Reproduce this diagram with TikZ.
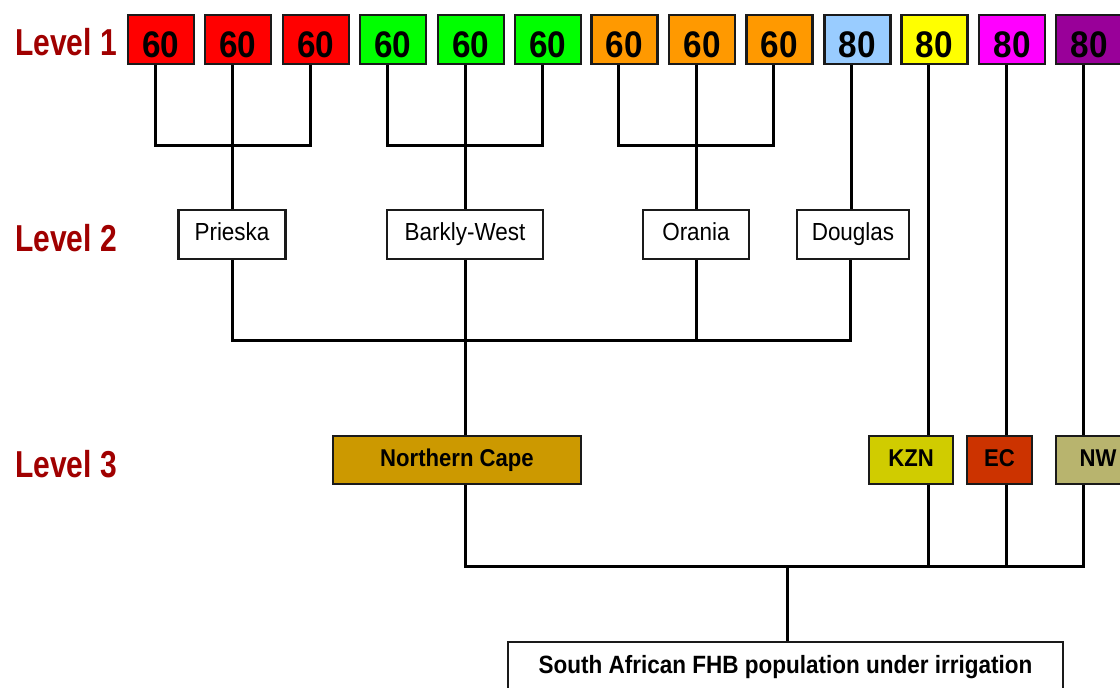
\documentclass[tikz,border=0pt]{standalone}
\usepackage{fontspec}
\setmainfont{Liberation Sans}
\newfontfamily\lblfont[FakeStretch=0.8]{Liberation Sans}
\newfontfamily\numfont[FakeStretch=0.9]{Liberation Sans}
\newfontfamily\twofont[FakeStretch=0.91]{Liberation Sans}
\newfontfamily\threefont[FakeStretch=0.91]{Liberation Sans}
\newfontfamily\botfont[FakeStretch=0.9]{Liberation Sans}
\definecolor{lvlred}{HTML}{A00000}
\definecolor{boxline}{HTML}{1A1A1A}
\definecolor{cRed}{HTML}{FF0000}
\definecolor{cGreen}{HTML}{00FF00}
\definecolor{cOrange}{HTML}{FF9900}
\definecolor{cLblue}{HTML}{99CCFF}
\definecolor{cYellow}{HTML}{FFFF00}
\definecolor{cMagenta}{HTML}{FF00FF}
\definecolor{cPurple}{HTML}{990099}
\definecolor{cNC}{HTML}{CC9900}
\definecolor{cKZN}{HTML}{D0CC00}
\definecolor{cEC}{HTML}{CC3300}
\definecolor{cNW}{HTML}{B8B46E}
\begin{document}
\begin{tikzpicture}[x=1pt,y=-1pt,
  lvl/.style={font={\lblfont\bfseries\fontsize{37.5pt}{40pt}\selectfont}, text=lvlred, anchor=base west, inner sep=0},
  topbox/.style={draw=boxline, line width=2.3, minimum width=66, minimum height=49, inner sep=0,
     text height=35, text depth=0, font={\numfont\bfseries\fontsize{37pt}{40pt}\selectfont}},
  twobox/.style={draw=boxline, line width=2.3, fill=white, minimum height=49, inner sep=0,
     text height=18, text depth=7, font={\twofont\fontsize{24.7pt}{26pt}\selectfont}},
  threebox/.style={draw=boxline, line width=2.3, minimum height=48, inner sep=0,
     text height=18, text depth=4.6, font={\threefont\bfseries\fontsize{24.3pt}{26pt}\selectfont}},
  botbox/.style={draw=boxline, line width=2.3, fill=white, anchor=north, minimum width=555, inner ysep=0,
     text height=31, text depth=45, font={\botfont\bfseries\fontsize{25pt}{27pt}\selectfont}},
  conn/.style={line width=3, draw=black}
]
\useasboundingbox (0,0) rectangle (1120,688);
\clip (0,0) rectangle (1120,688);

% level labels
\node[lvl] (l1) at (15,55) {Level 1};
\node[lvl] (l2) at (15,251.7) {Level 2};
\node[lvl] (l3) at (15,477) {Level 3};

% level 1 boxes
\node[topbox, fill=cRed] (r1) at (161,39.5) {60};
\node[topbox, fill=cRed] (r2) at (238,39.5) {60};
\node[topbox, fill=cRed] (r3) at (316,39.5) {60};
\node[topbox, fill=cGreen] (g1) at (393,39.5) {60};
\node[topbox, fill=cGreen] (g2) at (471,39.5) {60};
\node[topbox, fill=cGreen] (g3) at (548,39.5) {60};
\node[topbox, fill=cOrange] (o1) at (624.5,39.5) {60};
\node[topbox, fill=cOrange] (o2) at (702,39.5) {60};
\node[topbox, fill=cOrange] (o3) at (779.5,39.5) {60};
\node[topbox, fill=cLblue] (lb) at (857.5,39.5) {80};
\node[topbox, fill=cYellow] (ye) at (934.5,39.5) {80};
\node[topbox, fill=cMagenta] (ma) at (1012,39.5) {80};
\node[topbox, fill=cPurple] (pu) at (1089,39.5) {80};

% level 2 boxes
\node[twobox, minimum width=107] (prieska) at (232,234.5) {Prieska};
\node[twobox, minimum width=156] (barkly) at (465,234.5) {Barkly-West};
\node[twobox, minimum width=106] (orania) at (696,234.5) {Orania};
\node[twobox, minimum width=112] (douglas) at (853,234.5) {Douglas};

% level 3 boxes
\node[threebox, fill=cNC, minimum width=248] (nc) at (457,460) {Northern Cape};
\node[threebox, fill=cKZN, minimum width=84] (kzn) at (911,460) {KZN};
\node[threebox, fill=cEC, minimum width=65] (ec) at (999.5,460) {EC};
\node[threebox, fill=cNW, minimum width=84] (nw) at (1098,460) {NW};

% bottom box
\node[botbox] (bot) at (785.5,641) {South African FHB population under irrigation};

% junctions
\coordinate (jr) at (232,145);
\coordinate (jg) at (465,145);
\coordinate (jo) at (696,145);
\coordinate (j2) at (465,340);
\coordinate (j3) at (787,566);

% level 1 -> level 2
\draw[conn] ([xshift=-6]r1.south) |- (jr) -| ([xshift=-6]r3.south);
\draw[conn] ([xshift=-6]r2.south) -- (prieska.north);
\draw[conn] ([xshift=-6]g1.south) |- (jg) -| ([xshift=-6]g3.south);
\draw[conn] ([xshift=-6]g2.south) -- (barkly.north);
\draw[conn] ([xshift=-6.5]o1.south) |- (jo) -| ([xshift=-6.5]o3.south);
\draw[conn] ([xshift=-6]o2.south) -- (orania.north);
\draw[conn] ([xshift=-6.5]lb.south) -- ([xshift=-6.5]lb.south |- douglas.north);

% level 2 -> level 3
\draw[conn] (prieska.south) |- (j2) -| ([xshift=-3]douglas.south);
\draw[conn] (orania.south) -- (orania.south |- j2);
\draw[conn] (barkly.south) -- (barkly.south |- nc.north);

% level 1 (80) -> level 3
\draw[conn] ([xshift=-6.5]ye.south) -- ([xshift=-6.5]ye.south |- kzn.north);
\draw[conn] ([xshift=-6]ma.south) -- ([xshift=-6]ma.south |- ec.north);
\draw[conn] ([xshift=-6]pu.south) -- ([xshift=-6]pu.south |- nw.north);

% level 3 -> bottom
\draw[conn] (barkly.south |- nc.south) |- (j3) -| ([xshift=-6]pu.south |- nw.south);
\draw[conn] ([xshift=-6.5]ye.south |- kzn.south) -- ([xshift=-6.5]ye.south |- j3);
\draw[conn] ([xshift=-6]ma.south |- ec.south) -- ([xshift=-6]ma.south |- j3);
\draw[conn] (j3) -- (j3 |- bot.north);
\end{tikzpicture}
\end{document}
